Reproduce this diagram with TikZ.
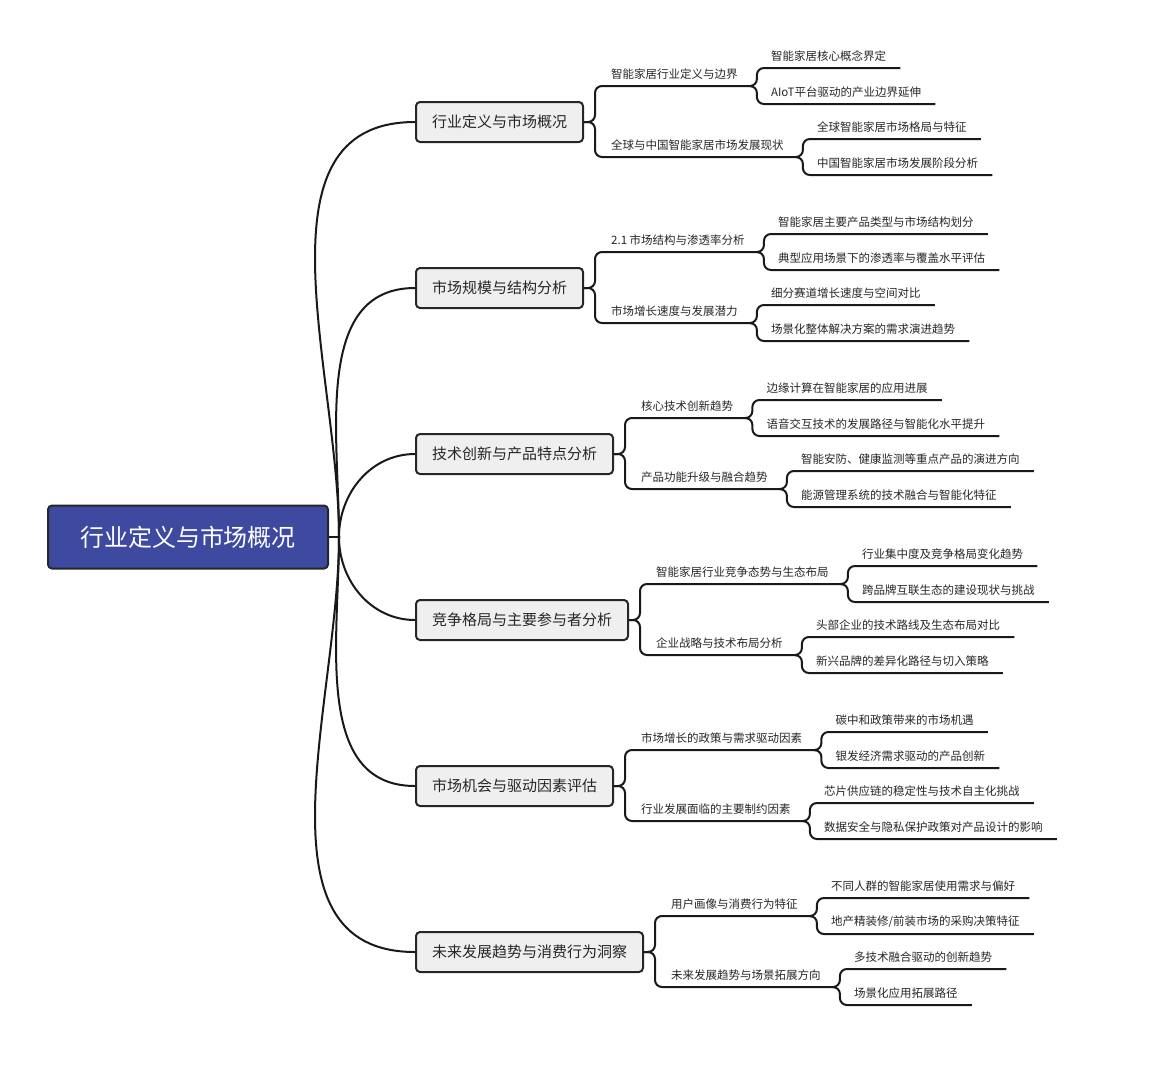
\documentclass[tikz,border=0pt]{standalone}
\usepackage{fontspec}
\setmainfont{Noto Sans CJK SC}
\usepackage{tikz}
\usetikzlibrary{calc,positioning}
\definecolor{rootblue}{HTML}{3D4AA0}
\definecolor{boxgray}{HTML}{EFEFEF}
\tikzset{
  root/.style={draw=black!85,line width=2pt,fill=rootblue,rounded corners=4pt,text=white,
    font=\fontsize{24}{28}\selectfont,minimum width=280pt,minimum height=63pt},
  topic/.style={draw=black!85,line width=2pt,fill=boxgray,rounded corners=4pt,text=black!85,
    font=\fontsize{15}{18}\selectfont,minimum height=40pt,inner xsep=16pt,anchor=west},
  sub/.style={font=\fontsize{11.5}{14}\selectfont,text=black!85,inner xsep=16pt,inner ysep=6pt,anchor=south west},
  leaf/.style={font=\fontsize{11.5}{14}\selectfont,text=black!85,inner xsep=14pt,inner ysep=6pt,anchor=south west},
  link/.style={line width=2pt,black!90},
  fork/.style={line width=2pt,black!90,rounded corners=7pt}
}
\newcommand{\branch}[4]{% topic node, sub name, sub text, leaf texts
}
\begin{document}
\begin{tikzpicture}[x=1pt,y=1pt]
\useasboundingbox (0,0) rectangle (1176,-1080);
% root
\node[root] (r) at (188,-537) {行业定义与市场概况};
\coordinate (rs) at (339,-537);
\draw[link] (r.east) -- (rs);
% topics
\node[topic] (t1) at (415,-122) {行业定义与市场概况};
\node[topic] (t2) at (415,-288) {市场规模与结构分析};
\node[topic] (t3) at (415,-454) {技术创新与产品特点分析};
\node[topic] (t4) at (415,-620) {竞争格局与主要参与者分析};
\node[topic] (t5) at (415,-786) {市场机会与驱动因素评估};
\node[topic] (t6) at (415,-952) {未来发展趋势与消费行为洞察};
\draw[link] (rs) to[out=90,in=180] (t1.west);
\draw[link] (rs) to[out=90,in=180] (t2.west);
\draw[link] (rs) to[out=90,in=180] (t3.west);
\draw[link] (rs) to[out=-90,in=180] (t4.west);
\draw[link] (rs) to[out=-90,in=180] (t5.west);
\draw[link] (rs) to[out=-90,in=180] (t6.west);
% subtopics
\node[sub] (s11) at ($(t1.east)+(11,36)$) {智能家居行业定义与边界};
\node[sub] (s12) at ($(t1.east)+(11,-35)$) {全球与中国智能家居市场发展现状};
\node[sub] (s21) at ($(t2.east)+(11,36)$) {2.1 市场结构与渗透率分析};
\node[sub] (s22) at ($(t2.east)+(11,-35)$) {市场增长速度与发展潜力};
\node[sub] (s31) at ($(t3.east)+(11,36)$) {核心技术创新趋势};
\node[sub] (s32) at ($(t3.east)+(11,-35)$) {产品功能升级与融合趋势};
\node[sub] (s41) at ($(t4.east)+(11,36)$) {智能家居行业竞争态势与生态布局};
\node[sub] (s42) at ($(t4.east)+(11,-35)$) {企业战略与技术布局分析};
\node[sub] (s51) at ($(t5.east)+(11,36)$) {市场增长的政策与需求驱动因素};
\node[sub] (s52) at ($(t5.east)+(11,-35)$) {行业发展面临的主要制约因素};
\node[sub] (s61) at ($(t6.east)+(11,36)$) {用户画像与消费行为特征};
\node[sub] (s62) at ($(t6.east)+(11,-35)$) {未来发展趋势与场景拓展方向};
\foreach \t in {1,...,6}
  \foreach \s in {1,2}
    \draw[fork] (t\t.east) -| (s\t\s.south west) -- (s\t\s.south east);
% leaves
\node[leaf] (l111) at ($(s11.south east)+(3,18)$) {智能家居核心概念界定};
\node[leaf] (l112) at ($(s11.south east)+(3,-18)$) {AIoT平台驱动的产业边界延伸};
\node[leaf] (l121) at ($(s12.south east)+(3,18)$) {全球智能家居市场格局与特征};
\node[leaf] (l122) at ($(s12.south east)+(3,-18)$) {中国智能家居市场发展阶段分析};
\node[leaf] (l211) at ($(s21.south east)+(3,18)$) {智能家居主要产品类型与市场结构划分};
\node[leaf] (l212) at ($(s21.south east)+(3,-18)$) {典型应用场景下的渗透率与覆盖水平评估};
\node[leaf] (l221) at ($(s22.south east)+(3,18)$) {细分赛道增长速度与空间对比};
\node[leaf] (l222) at ($(s22.south east)+(3,-18)$) {场景化整体解决方案的需求演进趋势};
\node[leaf] (l311) at ($(s31.south east)+(3,18)$) {边缘计算在智能家居的应用进展};
\node[leaf] (l312) at ($(s31.south east)+(3,-18)$) {语音交互技术的发展路径与智能化水平提升};
\node[leaf] (l321) at ($(s32.south east)+(3,18)$) {智能安防、健康监测等重点产品的演进方向};
\node[leaf] (l322) at ($(s32.south east)+(3,-18)$) {能源管理系统的技术融合与智能化特征};
\node[leaf] (l411) at ($(s41.south east)+(3,18)$) {行业集中度及竞争格局变化趋势};
\node[leaf] (l412) at ($(s41.south east)+(3,-18)$) {跨品牌互联生态的建设现状与挑战};
\node[leaf] (l421) at ($(s42.south east)+(3,18)$) {头部企业的技术路线及生态布局对比};
\node[leaf] (l422) at ($(s42.south east)+(3,-18)$) {新兴品牌的差异化路径与切入策略};
\node[leaf] (l511) at ($(s51.south east)+(3,18)$) {碳中和政策带来的市场机遇};
\node[leaf] (l512) at ($(s51.south east)+(3,-18)$) {银发经济需求驱动的产品创新};
\node[leaf] (l521) at ($(s52.south east)+(3,18)$) {芯片供应链的稳定性与技术自主化挑战};
\node[leaf] (l522) at ($(s52.south east)+(3,-18)$) {数据安全与隐私保护政策对产品设计的影响};
\node[leaf] (l611) at ($(s61.south east)+(3,18)$) {不同人群的智能家居使用需求与偏好};
\node[leaf] (l612) at ($(s61.south east)+(3,-18)$) {地产精装修/前装市场的采购决策特征};
\node[leaf] (l621) at ($(s62.south east)+(3,18)$) {多技术融合驱动的创新趋势};
\node[leaf] (l622) at ($(s62.south east)+(3,-18)$) {场景化应用拓展路径};
\foreach \t in {1,...,6}
  \foreach \s in {1,2}
    \foreach \l in {1,2}
      \draw[fork] (s\t\s.south east) -| (l\t\s\l.south west) -- (l\t\s\l.south east);
\end{tikzpicture}
\end{document}
